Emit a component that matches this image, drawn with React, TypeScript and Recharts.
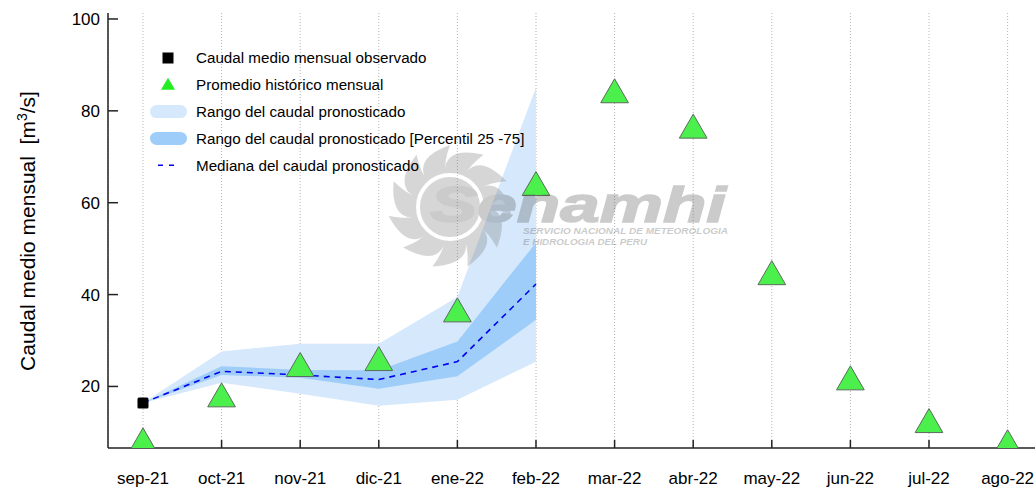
import React from 'react'
import {
  Area,
  CartesianGrid,
  ComposedChart,
  Customized,
  Line,
  XAxis,
  YAxis,
} from 'recharts'

const FONT = '"Liberation Sans", Arial, sans-serif'

const MONTHS = [
  'sep-21', 'oct-21', 'nov-21', 'dic-21', 'ene-22', 'feb-22',
  'mar-22', 'abr-22', 'may-22', 'jun-22', 'jul-22', 'ago-22',
]
// observed monthly flow (only the first month is known)
const OBSERVED = [16.4]
// historical monthly average
const HISTORICAL = [7.5, 17.3, 23.9, 25.2, 35.8, 63.3, 83.5, 75.8, 43.9, 21.0, 11.7, 7.1]
// forecast range (full) and percentile 25-75
const RANGE_LOW = [16.4, 20.8, 18.4, 15.8, 17.1, 25.4]
const RANGE_HIGH = [16.4, 27.6, 29.3, 29.3, 39.5, 85.1]
const P25 = [16.4, 22.5, 21.9, 19.5, 22.2, 34.5]
const P75 = [16.4, 24.4, 23.6, 23.5, 29.8, 51.3]
const MEDIAN = [16.4, 23.3, 22.5, 21.5, 25.4, 42.3]

const Y_TICKS = [20, 40, 60, 80, 100]
const Y_DOMAIN: [number, number] = [6.6, 101.3]
const X_DOMAIN: [number, number] = [-0.445, 11.374]

const LEGEND_LABELS = [
  'Caudal medio mensual observado',
  'Promedio histórico mensual',
  'Rango del caudal pronosticado',
  'Rango del caudal pronosticado [Percentil 25 -75]',
  'Mediana del caudal pronosticado',
]

const OUTER_FILL = '#d5e8fc'
const INNER_FILL = '#9ecdfa'
const MEDIAN_COLOR = '#0000ee'
const TRI_FILL = '#4cf04c'

const chartData = MONTHS.map((month, i) => ({
  idx: i,
  month,
  observed: OBSERVED[i] ?? null,
  historical: HISTORICAL[i] ?? null,
  outer: i < RANGE_LOW.length ? [RANGE_LOW[i], RANGE_HIGH[i]] : null,
  inner: i < P25.length ? [P25[i], P75[i]] : null,
  median: MEDIAN[i] ?? null,
}))

function TriangleDot(props: any) {
  const { cx, cy, index } = props
  if (cy == null || cx == null || Number.isNaN(cy)) return <g key={`tri-${index}`} />
  const r = 16
  const hw = r * 0.866
  return (
    <path
      key={`tri-${index}`}
      d={`M${cx},${cy - r} L${cx + hw},${cy + r / 2} L${cx - hw},${cy + r / 2} Z`}
      fill={TRI_FILL}
      stroke="#5b6b5b"
      strokeWidth={1}
    />
  )
}

function SquareDot(props: any) {
  const { cx, cy, index } = props
  if (cy == null || cx == null || Number.isNaN(cy)) return <g key={`sq-${index}`} />
  const s = 11
  return <rect key={`sq-${index}`} x={cx - s / 2} y={cy - s / 2} width={s} height={s} rx={1.5} fill="#000" />
}

// gray Senamhi watermark (sun with curved flames + lettering)
function Watermark() {
  const cx = 450
  const cy = 207
  const n = 11
  const rIn = 37
  const rOut = 62
  const p = (r: number, a: number) =>
    `${(cx + r * Math.cos(a)).toFixed(1)},${(cy + r * Math.sin(a)).toFixed(1)}`
  const step = (Math.PI * 2) / n
  const petals: string[] = []
  for (let k = 0; k < n; k++) {
    const a0 = k * step
    const a1 = a0 + step * 1.05
    const tip = a0 + step * 1.25
    petals.push(
      `M${p(rIn, a0)} Q${p(rOut * 0.98, a0 + step * 0.15)} ${p(rOut, tip)} Q${p(rOut * 0.72, a1 - step * 0.05)} ${p(rIn, a1)} Z`,
    )
  }
  return (
    <g opacity={0.3} pointerEvents="none">
      {petals.map((d, i) => (
        <path key={i} d={d} fill="#7a7a7a" />
      ))}
      <circle cx={cx} cy={cy} r={rIn + 1} fill="#7a7a7a" />
      <circle cx={cx} cy={cy} r={rIn - 5} fill="none" stroke="#fff" strokeWidth={4} />
      <text
        x={430}
        y={222}
        fontFamily={FONT}
        fontWeight="bold"
        fontStyle="italic"
        fontSize={50}
        fill="#555"
        stroke="#555"
        strokeWidth={1.5}
        textLength={296}
        lengthAdjust="spacingAndGlyphs"
      >
        Senamhi
      </text>
      <text x={523} y={234} fontFamily={FONT} fontWeight="bold" fontStyle="italic" fontSize={9.5} fill="#555" textLength={205} lengthAdjust="spacingAndGlyphs">
        SERVICIO NACIONAL DE METEOROLOGIA
      </text>
      <text x={523} y={245} fontFamily={FONT} fontWeight="bold" fontStyle="italic" fontSize={9.5} fill="#555" textLength={124} lengthAdjust="spacingAndGlyphs">
        E HIDROLOGIA DEL PERU
      </text>
    </g>
  )
}

function LegendBox() {
  const x0 = 168
  const y0 = 58
  const step = 26.8
  const symbols = [
    <rect key="s0" x={x0 - 5.5} y={y0 - 5.5} width={11} height={11} fill="#000" />,
    <path key="s1" d={`M${x0},${y0 + step - 7} L${x0 + 7},${y0 + step + 5} L${x0 - 7},${y0 + step + 5} Z`} fill="#22ee22" />,
    <rect key="s2" x={x0 - 18} y={y0 + 2 * step - 6.5} width={37} height={13} rx={6.5} fill={OUTER_FILL} />,
    <rect key="s3" x={x0 - 18} y={y0 + 3 * step - 6.5} width={37} height={13} rx={6.5} fill={INNER_FILL} />,
    <line key="s4" x1={x0 - 10} x2={x0 + 10} y1={y0 + 4 * step} y2={y0 + 4 * step} stroke={MEDIAN_COLOR} strokeWidth={1.6} strokeDasharray="5 6" />,
  ]
  return (
    <g>
      {symbols}
      {LEGEND_LABELS.map((label, i) => (
        <text key={label} x={196} y={y0 + i * step} dy="0.35em" fontFamily={FONT} fontSize={15.2} fill="#000">
          {label}
        </text>
      ))}
    </g>
  )
}

function YLabel() {
  return (
    <text
      transform="translate(28,231) rotate(-90)"
      textAnchor="middle"
      dy="0.35em"
      fontFamily={FONT}
      fontSize={21}
      fill="#000"
    >
      {'Caudal medio mensual\u00a0 [m'}
      <tspan dy="-8" fontSize={14}>3</tspan>
      <tspan dy="8">/s]</tspan>
    </text>
  )
}

export default function App() {
  return (
    <div style={{ position: 'absolute', left: 0, top: 0, width: 1035, height: 488, overflow: 'hidden', background: '#fff' }}>
      <ComposedChart
        width={1037}
        height={488}
        data={chartData}
        margin={{ top: 13, right: 0, bottom: 0, left: 0 }}
        style={{ fontFamily: FONT }}
      >
        <CartesianGrid horizontal={false} stroke="#b4b4b4" strokeDasharray="1 2" />
        <XAxis
          dataKey="idx"
          type="number"
          domain={X_DOMAIN}
          ticks={MONTHS.map((_, i) => i)}
          tickFormatter={(v: number) => MONTHS[v] ?? ''}
          interval={0}
          allowDataOverflow
          height={40}
          tickSize={-8}
          tickMargin={32}
          tick={{ fontSize: 17, fill: '#000', fontFamily: FONT }}
          axisLine={{ stroke: '#222', strokeWidth: 1.5 }}
          tickLine={{ stroke: '#222', strokeWidth: 1.5 }}
        />
        <XAxis
          xAxisId="top"
          orientation="top"
          type="number"
          domain={X_DOMAIN}
          height={0}
          tick={false}
          tickLine={false}
          axisLine={{ stroke: '#222', strokeWidth: 1.5 }}
        />
        <YAxis
          type="number"
          domain={Y_DOMAIN}
          ticks={Y_TICKS}
          allowDataOverflow
          width={108}
          tickSize={-10}
          tickMargin={18}
          tick={{ fontSize: 17, fill: '#000', fontFamily: FONT }}
          axisLine={{ stroke: '#222', strokeWidth: 1.5 }}
          tickLine={{ stroke: '#222', strokeWidth: 1.5 }}
        />
        <Area
          dataKey="outer"
          type="linear"
          stroke="none"
          fill={OUTER_FILL}
          fillOpacity={1}
          isAnimationActive={false}
          activeDot={false}
        />
        <Area
          dataKey="inner"
          type="linear"
          stroke="none"
          fill={INNER_FILL}
          fillOpacity={1}
          isAnimationActive={false}
          activeDot={false}
        />
        <Line
          dataKey="median"
          type="linear"
          stroke={MEDIAN_COLOR}
          strokeWidth={1.6}
          strokeDasharray="6 5"
          dot={false}
          activeDot={false}
          isAnimationActive={false}
        />
        <Line
          dataKey="historical"
          stroke="none"
          dot={(p: any) => <TriangleDot {...p} />}
          activeDot={false}
          isAnimationActive={false}
        />
        <Line
          dataKey="observed"
          stroke="none"
          dot={(p: any) => <SquareDot {...p} />}
          activeDot={false}
          isAnimationActive={false}
        />
        <Customized component={YLabel} />
      </ComposedChart>
      {/* legend and watermark sit above the plotted bands */}
      <svg
        width={1035}
        height={488}
        style={{ position: 'absolute', left: 0, top: 0, pointerEvents: 'none' }}
      >
        <Watermark />
        <LegendBox />
      </svg>
    </div>
  )
}
